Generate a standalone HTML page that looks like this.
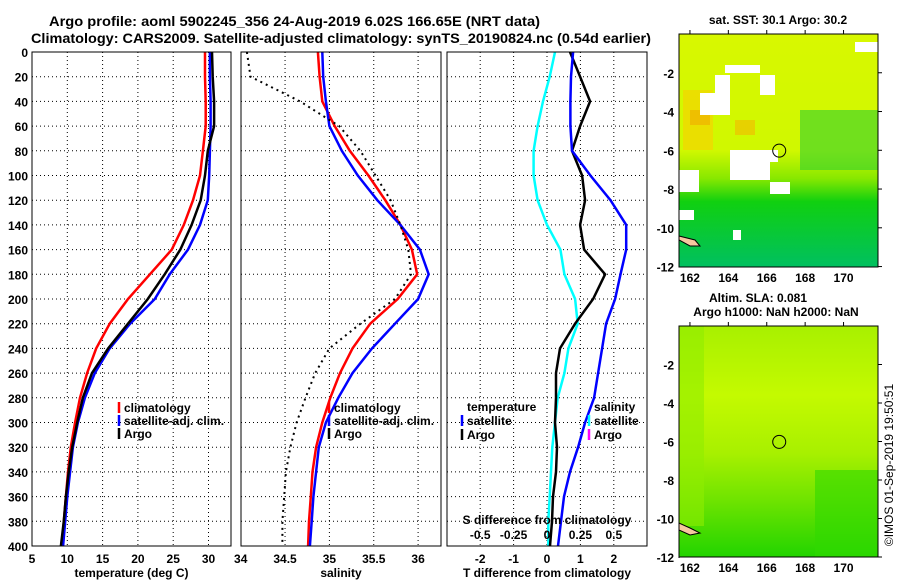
<!DOCTYPE html>
<html><head><meta charset="utf-8"><style>
html,body{margin:0;padding:0;background:#fff;}
svg{display:block;font-family:"Liberation Sans",sans-serif;font-weight:bold;}
</style></head><body>
<svg id="fig" width="900" height="580" viewBox="0 0 900 580" xmlns="http://www.w3.org/2000/svg">
<defs>
<linearGradient id="sstg" x1="0" y1="0" x2="0" y2="1">
<stop offset="0" stop-color="#d8f800"/><stop offset="0.5" stop-color="#d0f800"/><stop offset="0.62" stop-color="#88e800"/><stop offset="0.72" stop-color="#10d010"/><stop offset="1" stop-color="#00c060"/>
</linearGradient>
<linearGradient id="slag" x1="0" y1="0" x2="0" y2="1">
<stop offset="0" stop-color="#a8f000"/><stop offset="0.3" stop-color="#c4fa00"/><stop offset="0.55" stop-color="#a8f000"/><stop offset="0.75" stop-color="#70e400"/><stop offset="1" stop-color="#22d400"/>
</linearGradient>
<clipPath id="c1"><rect x="32" y="52" width="199" height="494"/></clipPath>
<clipPath id="c2"><rect x="241" y="52" width="200" height="494"/></clipPath>
<clipPath id="c3"><rect x="447" y="52" width="200" height="494"/></clipPath>
</defs>
<g font-size="14">
<text x="49" y="26" textLength="491" lengthAdjust="spacingAndGlyphs">Argo profile: aoml 5902245_356 24-Aug-2019 6.02S 166.65E (NRT data)</text>
<text x="31" y="43" textLength="620" lengthAdjust="spacingAndGlyphs">Climatology: CARS2009. Satellite-adjusted climatology: synTS_20190824.nc (0.54d earlier)</text>
</g>
<g id="maps">
<g>
<text x="778" y="24" font-size="12" text-anchor="middle">sat. SST: 30.1 Argo: 30.2</text>
<rect x="679" y="34" width="199" height="233" fill="url(#sstg)"/>
<rect x="683" y="90" width="30" height="60" fill="#f0d800" opacity="0.8"/>
<rect x="690" y="110" width="20" height="15" fill="#f0b000" opacity="0.7"/>
<rect x="735" y="120" width="20" height="15" fill="#f0c000" opacity="0.7"/>
<rect x="800" y="110" width="78" height="60" fill="#30d030" opacity="0.6"/>
<rect x="700" y="93" width="30" height="22" fill="#fff"/>
<rect x="715" y="75" width="15" height="25" fill="#fff"/>
<rect x="725" y="65" width="35" height="8" fill="#fff"/>
<rect x="760" y="75" width="15" height="20" fill="#fff"/>
<rect x="730" y="150" width="40" height="30" fill="#fff"/>
<rect x="768" y="150" width="10" height="12" fill="#fff"/>
<rect x="679" y="170" width="20" height="22" fill="#fff"/>
<rect x="770" y="182" width="20" height="12" fill="#fff"/>
<rect x="855" y="42" width="23" height="10" fill="#fff"/>
<rect x="679" y="210" width="15" height="10" fill="#fff"/>
<rect x="733" y="230" width="8" height="10" fill="#fff"/>
<path d="M679 236 L695 240 L700 246 L690 246 L679 240Z" fill="#f5c8a0" stroke="#000"/>
<rect x="679" y="34" width="199" height="233" fill="none" stroke="#000"/>
</g>
<g>
<text x="758" y="302" font-size="12" text-anchor="middle">Altim. SLA: 0.081</text>
<text x="776" y="316" font-size="12" text-anchor="middle">Argo h1000: NaN h2000: NaN</text>
<rect x="679" y="326" width="199" height="231" fill="url(#slag)"/>
<rect x="679" y="326" width="25" height="200" fill="#90ec00" opacity="0.6"/>
<rect x="815" y="470" width="63" height="87" fill="#30d800" opacity="0.6"/>
<path d="M679 558 L679 523 L690 528 L700 533 L690 535 L679 530Z" fill="#f5c8a0" stroke="#000"/>
<rect x="679" y="326" width="199" height="231" fill="none" stroke="#000"/>
</g>
<text transform="translate(893,465) rotate(-90)" font-size="12" font-weight="normal" text-anchor="middle">©IMOS 01-Sep-2019 19:50:51</text>
</g>
<g id="plots"></g>
</svg>
<script>
// ---- data ----
const depths = [0,20,40,60,80,100,120,140,160,180,200,220,240,260,280,300,320,340,360,380,400];
const tempClim = [29.5,29.5,29.6,29.6,29.2,28.8,27.8,26.5,24.8,21.7,18.6,16.0,14.1,12.8,11.8,11.1,10.5,10.1,9.8,9.5,9.3];
const tempSat = [30.2,30.2,30.3,30.3,30.2,30.1,29.9,28.8,27.1,24.5,22.4,18.9,16.0,13.9,12.5,11.5,10.8,10.4,10.0,9.7,9.4];
const tempArgo = [30.5,30.6,30.8,30.8,29.9,29.5,28.9,27.6,26.0,23.8,21.4,18.6,15.8,13.5,12.2,11.4,10.7,10.2,9.8,9.5,9.1];
const salClim = [34.87,34.89,34.92,35.06,35.23,35.44,35.63,35.80,35.93,35.99,35.77,35.46,35.26,35.12,35.01,34.92,34.85,34.81,34.79,34.77,34.76];
const salSat = [34.92,34.93,34.96,35.00,35.14,35.32,35.54,35.80,36.02,36.12,36.00,35.74,35.48,35.26,35.10,34.96,34.88,34.85,34.82,34.80,34.78];
const salArgo = [34.07,34.11,34.67,35.11,35.35,35.52,35.69,35.80,35.89,35.92,35.74,35.35,35.00,34.84,34.73,34.63,34.56,34.51,34.49,34.47,34.47];
const tDiffSat = [0.78,0.72,0.70,0.70,0.75,1.30,1.90,2.37,2.37,2.20,2.04,1.77,1.65,1.53,1.41,1.14,0.93,0.69,0.51,0.42,0.33];
const tDiffArgo = [0.69,0.99,1.29,0.99,0.75,1.05,1.14,0.99,1.11,1.74,1.38,0.84,0.39,0.27,0.27,0.24,0.30,0.27,0.18,0.15,0.09];
const sDiffSat = [0.06,0.02,-0.03,-0.07,-0.10,-0.10,-0.07,0.00,0.10,0.13,0.21,0.23,0.16,0.13,0.08,0.06,0.04,0.03,0.02,0.01,0.01];
const tempTicks = [5,10,15,20,25,30];
const salTicks = [34,34.5,35,35.5,36];
const tDiffTicks = [-2,-1,0,1,2];
const sDiffTicks = [-0.5,-0.25,0,0.25,0.5];
const sDiffLabels = ["-0.5","-0.25","0","0.25","0.5"];
const depthTicks = [0,20,40,60,80,100,120,140,160,180,200,220,240,260,280,300,320,340,360,380,400];
const lonTicks = [162,164,166,168,170];
const latTicks = [-2,-4,-6,-8,-10,-12];
const argoLon = [166.65];
const argoLat = [-6.02];

// ---- scales ----
const TOP=52, BOT=546;
const yD = d => TOP + d/400*(BOT-TOP);
const xT = t => 32 + (t-5)*7.06;
const xS = s => 240.7 + (s-34)*88.7;
const xTD = d => 547 + d*33.4;
const xSD = s => 547 + s*133.6;
const mapX = lon => 679 + (lon-161.43)*19.2;
const mapY1 = lat => 34 + (-lat)*19.38;
const mapY2 = lat => 326 + (-lat)*19.25;

const NS="http://www.w3.org/2000/svg";
const root=document.getElementById('plots');
function mk(tag,attrs,parent){const e=document.createElementNS(NS,tag);for(const k in attrs)e.setAttribute(k,attrs[k]);(parent||root).appendChild(e);return e;}
function txt(x,y,s,anchor,size,parent){const e=mk('text',{x:x,y:y,'text-anchor':anchor||'middle','font-size':size||12},parent);e.textContent=s;return e;}

function panel(name,x0,x1,clip,xticks,xf,labels,xtitle,showY){
  const g=mk('g',{});
  
  
  depthTicks.forEach(d=>{
    if(d>0&&d<400){const l=mk('line',{x1:x0,x2:x1,y1:yD(d),y2:yD(d),stroke:'#000','stroke-dasharray':'1,3'},g);
    
    }
    if(showY){const t=txt(28,yD(d)+5,String(d),'end',12,g);
    
    }
  });
  xticks.forEach((v,i)=>{
    const x=xf(v);
    if(x>x0+2&&x<x1-2){const l=mk('line',{x1:x,x2:x,y1:TOP,y2:BOT,stroke:'#000','stroke-dasharray':'1,3'},g);
    
    }
    const t=txt(x,563,labels?labels[i]:String(v),'middle',12,g);
    
    
  });
  const t=txt((x0+x1)/2,577,xtitle,'middle',12,g);
  
  
  return g;
}
function line(g,xs,xf,color,clip,name,dash){
  const pts=depths.map((d,i)=>xf(xs[i]).toFixed(1)+','+yD(d).toFixed(1)).join(' ');
  const p=mk('polyline',{points:pts,fill:'none',stroke:color,'stroke-width':dash?2:2.5,'clip-path':'url(#'+clip+')'},g);
  if(dash)p.setAttribute('stroke-dasharray','2,4');
  
  
}
function legend(g,x,y,color,label,name){
  const l=mk('line',{x1:x,x2:x,y1:y-10,y2:y+1,stroke:color,'stroke-width':2.5},g);
  const t=txt(x+5,y,label,'start',12,g);
  
  
}

// panel 1
const p1=panel('temperature-panel',32,231,'c1',tempTicks,xT,null,'temperature (deg C)',true);
line(p1,tempClim,xT,'#ff0000','c1','temp-climatology-line');
line(p1,tempSat,xT,'#0000ff','c1','temp-satellite-line');
line(p1,tempArgo,xT,'#000000','c1','temp-argo-line');
mk('rect',{x:32,y:52,width:199,height:494,fill:'none',stroke:'#000'},p1);
legend(p1,119,412,'#ff0000','climatology','legend-climatology');
legend(p1,119,425,'#0000ff','satellite-adj. clim.','legend-satellite');
legend(p1,119,438,'#000000','Argo','legend-argo');

// panel 2
const p2=panel('salinity-panel',241,441,'c2',salTicks,xS,null,'salinity',false);
line(p2,salClim,xS,'#ff0000','c2','sal-climatology-line');
line(p2,salSat,xS,'#0000ff','c2','sal-satellite-line');
line(p2,salArgo,xS,'#000000','c2','sal-argo-line',true);
mk('rect',{x:241,y:52,width:200,height:494,fill:'none',stroke:'#000'},p2);
legend(p2,329,412,'#ff0000','climatology','legend-sal-climatology');
legend(p2,329,425,'#0000ff','satellite-adj. clim.','legend-sal-satellite');
legend(p2,329,438,'#000000','Argo','legend-sal-argo');

// panel 3
const p3=panel('difference-panel',447,647,'c3',tDiffTicks,xTD,null,'T difference from climatology',false);
line(p3,sDiffSat,xSD,'#00ffff','c3','s-diff-satellite-line');
line(p3,tDiffArgo,xTD,'#000000','c3','t-diff-argo-line');
line(p3,tDiffSat,xTD,'#0000ff','c3','t-diff-satellite-line');
mk('rect',{x:447,y:52,width:200,height:494,fill:'none',stroke:'#000'},p3);
let t3=txt(467,411,'temperature','start',12,p3);
legend(p3,462,425,'#0000ff','satellite','legend-t-satellite');
legend(p3,462,439,'#000000','Argo','legend-t-argo');
t3=txt(594,411,'salinity','start',12,p3);
legend(p3,589,425,'#00ffff','satellite','legend-s-satellite');
legend(p3,589,439,'#ff00ff','Argo','legend-s-argo');
t3=txt(547,524,'S difference from climatology','middle',12,p3);
sDiffTicks.forEach((v,i)=>{const t=txt(xSD(v),539,sDiffLabels[i],'middle',12,p3);

});

// map axes
const mg=mk('g',{});


[[mapY1,34,267,'c-sst'],[mapY2,326,557,'c-sla']].forEach(([yf,top,bot])=>{
  lonTicks.forEach(v=>{
    const x=mapX(v);
    mk('line',{x1:x,x2:x,y1:top,y2:top-4,stroke:'#000'},mg);
    const t=txt(x,bot+15,String(v),'middle',12,mg);
    
    
  });
  latTicks.forEach(v=>{
    const y=yf(v);
    mk('line',{x1:878,x2:882,y1:y,y2:y,stroke:'#000'},mg);
    const t=txt(674,y+5,String(v),'end',12,mg);
    
    
  });
  const c=mk('circle',{cx:mapX(argoLon[0]),cy:yf(argoLat[0]),r:6.5,fill:'none',stroke:'#000'},mg);
  
  
});
</script>
</body></html>
